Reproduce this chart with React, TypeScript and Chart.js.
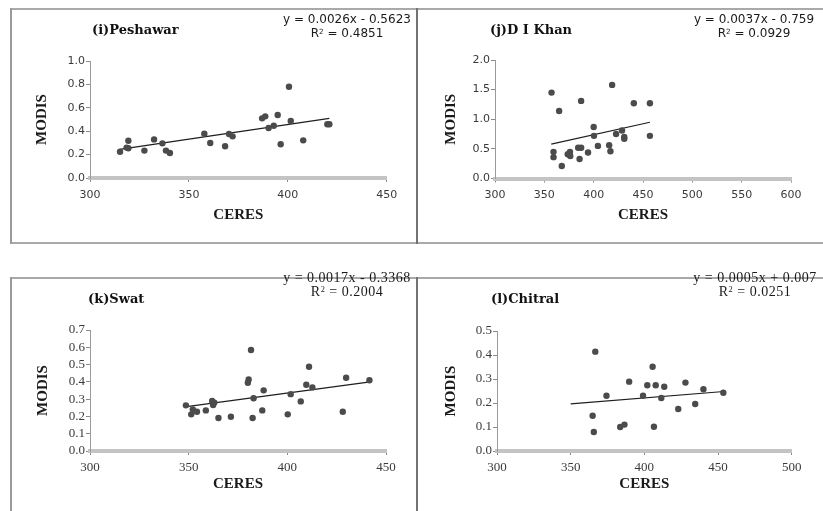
import React, { useEffect, useRef } from "react";
import { Chart, registerables } from "chart.js";

Chart.register(...registerables);

// ---------- DATA ----------
// (i) Peshawar
const peshawarX = [315.2, 319.4, 319.4, 318.5, 327.5, 332.4, 336.6, 338.4, 340.4, 357.8, 360.8, 368.3, 370.3, 372.1, 387, 388.6, 394.9, 390.3, 392.9, 396.4, 400.6, 401.5, 407.8, 420, 421];
const peshawarY = [0.225, 0.319, 0.254, 0.26, 0.234, 0.33, 0.296, 0.234, 0.214, 0.379, 0.299, 0.271, 0.376, 0.356, 0.51, 0.527, 0.538, 0.427, 0.447, 0.288, 0.78, 0.487, 0.322, 0.459, 0.459];
const peshawarTrendX = [315, 421];
const peshawarTrendY = [0.245, 0.51];
const peshawarXTicks = [300, 350, 400, 450];
const peshawarYTicks = [0, 0.2, 0.4, 0.6, 0.8, 1.0];

// (j) D I Khan
const dikhanX = [357.3, 365, 387.3, 418.7, 440.7, 457, 400, 359.3, 359.3, 367.7, 373.7, 376, 376.3, 384.3, 387.3, 385.7, 394.3, 400.3, 404.3, 415.7, 417, 422.7, 428.7, 431, 431, 457];
const dikhanY = [1.45, 1.14, 1.31, 1.58, 1.27, 1.27, 0.87, 0.45, 0.36, 0.21, 0.41, 0.45, 0.38, 0.52, 0.52, 0.33, 0.44, 0.72, 0.55, 0.56, 0.46, 0.75, 0.81, 0.7, 0.67, 0.72];
const dikhanTrendX = [357, 457];
const dikhanTrendY = [0.58, 0.95];
const dikhanXTicks = [300, 350, 400, 450, 500, 550, 600];
const dikhanYTicks = [0, 0.5, 1.0, 1.5, 2.0];

// (k) Swat
const swatX = [348.6, 351.3, 352.1, 354.2, 358.7, 361.9, 362.4, 363, 365.1, 371.4, 381.6, 380.4, 380, 382.9, 382.4, 388, 387.3, 400.2, 401.7, 406.8, 409.6, 411, 412.7, 428.1, 429.8, 441.6];
const swatY = [0.264, 0.212, 0.241, 0.227, 0.235, 0.289, 0.266, 0.28, 0.191, 0.198, 0.584, 0.414, 0.395, 0.305, 0.191, 0.351, 0.235, 0.212, 0.329, 0.287, 0.383, 0.487, 0.368, 0.227, 0.424, 0.409];
const swatTrendX = [349, 442];
const swatTrendY = [0.257, 0.4];
const swatXTicks = [300, 350, 400, 450];
const swatYTicks = [0, 0.1, 0.2, 0.3, 0.4, 0.5, 0.6, 0.7];

// (l) Chitral
const chitralX = [366.7, 364.9, 365.7, 374.3, 383.6, 386.5, 389.7, 399.1, 402, 405.6, 406.5, 407.7, 413.5, 411.5, 423, 427.9, 434.5, 440.1, 453.6];
const chitralY = [0.414, 0.147, 0.079, 0.23, 0.1, 0.11, 0.289, 0.23, 0.274, 0.351, 0.101, 0.274, 0.268, 0.221, 0.175, 0.285, 0.196, 0.257, 0.243];
const chitralTrendX = [350, 454];
const chitralTrendY = [0.196, 0.248];
const chitralXTicks = [300, 350, 400, 450, 500];
const chitralYTicks = [0, 0.1, 0.2, 0.3, 0.4, 0.5];

const xTitle = "CERES";
const yTitle = "MODIS";

type PanelProps = {
  left: number;
  top: number;
  w: number;
  h: number;
  area: { l: number; t: number; r: number; b: number };
  xs: number[];
  ys: number[];
  tx: number[];
  ty: number[];
  xTicks: number[];
  yTicks: number[];
  tickFont: { family: string; size: number };
  xTickPad: number;
  yTitleX: number;
  xTitleY: number;
};

function ScatterPanel(p: PanelProps) {
  const ref = useRef<HTMLCanvasElement | null>(null);
  useEffect(() => {
    if (!ref.current) return;
    const pts = p.xs.map((x, i) => ({ x, y: p.ys[i] }));
    const trend = p.tx.map((x, i) => ({ x, y: p.ty[i] }));
    const titleFont = { family: "Liberation Serif", size: 15, weight: "bold" as const };
    const lh = 15 * 1.2;
    const chart = new Chart(ref.current, {
      type: "scatter",
      data: {
        datasets: [
          {
            data: pts,
            backgroundColor: "#4b4b4b",
            borderWidth: 0,
            pointRadius: 3.2,
            pointHoverRadius: 3.2,
          },
          {
            data: trend,
            showLine: true,
            borderColor: "#1e1e1e",
            borderWidth: 1.2,
            pointRadius: 0,
            fill: false,
          },
        ],
      },
      options: {
        responsive: false,
        animation: false,
        events: [],
        layout: {
          padding: { left: 0, top: p.area.t, right: p.w - p.area.r, bottom: 0 },
        },
        plugins: { legend: { display: false }, tooltip: { enabled: false } },
        scales: {
          x: {
            type: "linear",
            min: p.xTicks[0],
            max: p.xTicks[p.xTicks.length - 1],
            afterBuildTicks: (s: any) => {
              s.ticks = p.xTicks.map((v) => ({ value: v }));
            },
            afterFit: (s: any) => {
              s.height = p.h - p.area.b;
            },
            border: { display: true, color: "#c4c4c4", width: 4 },
            grid: {
              display: true,
              drawOnChartArea: false,
              drawTicks: true,
              tickLength: 4,
              tickColor: "#8a8a8a",
              tickWidth: 1,
            },
            ticks: {
              color: "#3a3a3a",
              font: p.tickFont,
              padding: p.xTickPad,
              maxRotation: 0,
              autoSkip: false,
              callback: (v: any) => String(v),
            },
            title: {
              display: true,
              text: xTitle,
              color: "#1a1a1a",
              font: titleFont,
              padding: { top: 0, bottom: p.h - p.xTitleY - lh / 2 },
            },
          },
          y: {
            type: "linear",
            min: p.yTicks[0],
            max: p.yTicks[p.yTicks.length - 1],
            afterBuildTicks: (s: any) => {
              s.ticks = p.yTicks.map((v) => ({ value: v }));
            },
            afterFit: (s: any) => {
              s.width = p.area.l;
            },
            border: { display: true, color: "#9a9a9a", width: 1 },
            grid: {
              display: true,
              drawOnChartArea: false,
              drawTicks: true,
              tickLength: 4,
              tickColor: "#8a8a8a",
              tickWidth: 1,
            },
            ticks: {
              color: "#3a3a3a",
              font: p.tickFont,
              padding: 1,
              autoSkip: false,
              callback: (v: any) => Number(v).toFixed(1),
            },
            title: {
              display: true,
              text: yTitle,
              color: "#1a1a1a",
              font: titleFont,
              padding: { top: p.yTitleX - lh / 2, bottom: 0 },
            },
          },
        },
      },
    });
    return () => chart.destroy();
  }, []);
  return (
    <canvas
      ref={ref}
      width={p.w}
      height={p.h}
      style={{ position: "absolute", left: p.left, top: p.top, width: p.w, height: p.h }}
    />
  );
}

function Label(props: { x: number; y: number; text: string; font: string }) {
  return (
    <div
      style={{
        position: "absolute",
        left: props.x,
        top: props.y,
        transform: "translateY(-50%)",
        font: props.font,
        color: "#111",
        whiteSpace: "nowrap",
        lineHeight: "1",
      }}
    >
      {props.text}
    </div>
  );
}

function Equation(props: { cx: number; y: number; line1: string; r2: string; font: string; ls?: number }) {
  return (
    <div
      style={{
        position: "absolute",
        left: props.cx,
        top: props.y - 7,
        transform: "translateX(-50%)",
        font: props.font,
        color: "#1a1a1a",
        textAlign: "center",
        whiteSpace: "nowrap",
        lineHeight: "13.5px",
        letterSpacing: (props.ls || 0) + "px",
      }}
    >
      <div>{props.line1}</div>
      <div>
        R<sup style={{ fontSize: "0.6em", verticalAlign: "0.45em", lineHeight: 0 }}>2</sup> = {props.r2}
      </div>
    </div>
  );
}

const line = (l: number, t: number, w: number, h: number, c: string) => (
  <div style={{ position: "absolute", left: l, top: t, width: w, height: h, background: c }} />
);

export default function App() {
  const sansTick = { family: "DejaVu Sans", size: 11 };
  const serifTick = { family: "Liberation Serif", size: 13 };
  return (
    <div
      style={{
        position: "absolute",
        left: 0,
        top: 0,
        width: 823,
        height: 511,
        background: "#fff",
        overflow: "hidden",
      }}
    >
      <ScatterPanel
        left={11} top={9} w={406} h={234}
        area={{ l: 79, t: 52, r: 375.7, b: 169 }}
        xs={peshawarX} ys={peshawarY} tx={peshawarTrendX} ty={peshawarTrendY}
        xTicks={peshawarXTicks} yTicks={peshawarYTicks}
        tickFont={sansTick} xTickPad={6.4} yTitleX={31.5} xTitleY={206.5}
      />
      <ScatterPanel
        left={417} top={9} w={406} h={234}
        area={{ l: 78, t: 51, r: 374, b: 169.5 }}
        xs={dikhanX} ys={dikhanY} tx={dikhanTrendX} ty={dikhanTrendY}
        xTicks={dikhanXTicks} yTicks={dikhanYTicks}
        tickFont={sansTick} xTickPad={6.4} yTitleX={33.7} xTitleY={206.5}
      />
      <ScatterPanel
        left={11} top={278} w={406} h={233}
        area={{ l: 79, t: 52, r: 375, b: 173 }}
        xs={swatX} ys={swatY} tx={swatTrendX} ty={swatTrendY}
        xTicks={swatXTicks} yTicks={swatYTicks}
        tickFont={serifTick} xTickPad={5.2} yTitleX={31.7} xTitleY={206}
      />
      <ScatterPanel
        left={417} top={278} w={406} h={233}
        area={{ l: 80, t: 53, r: 374.7, b: 173 }}
        xs={chitralX} ys={chitralY} tx={chitralTrendX} ty={chitralTrendY}
        xTicks={chitralXTicks} yTicks={chitralYTicks}
        tickFont={serifTick} xTickPad={5.2} yTitleX={33.7} xTitleY={206}
      />

      {/* panel frames */}
      {line(10, 8, 813, 2, "#a9a9a9")}
      {line(10, 242, 813, 2, "#a9a9a9")}
      {line(10, 8, 2, 236, "#9a9a9a")}
      {line(416, 8, 2, 236, "#727272")}
      {line(10, 277, 813, 2, "#a9a9a9")}
      {line(10, 277, 2, 234, "#9a9a9a")}
      {line(416, 277, 2, 234, "#727272")}

      {/* panel titles */}
      <Label x={92} y={29} text="(i)Peshawar" font="bold 13px 'DejaVu Serif'" />
      <Label x={490} y={29} text="(j)D I Khan" font="bold 13px 'DejaVu Serif'" />
      <Label x={88} y={298} text="(k)Swat" font="bold 13px 'DejaVu Serif'" />
      <Label x={491} y={298} text="(l)Chitral" font="bold 13px 'DejaVu Serif'" />

      {/* regression equations */}
      <Equation cx={347} y={20} line1="y = 0.0026x - 0.5623" r2="0.4851" font="12px 'DejaVu Sans'" />
      <Equation cx={754} y={20} line1="y = 0.0037x - 0.759" r2="0.0929" font="12px 'DejaVu Sans'" />
      <Equation cx={347} y={278} line1="y = 0.0017x - 0.3368" r2="0.2004" font="14px 'Liberation Serif'" ls={0.5} />
      <Equation cx={755} y={278} line1="y = 0.0005x + 0.007" r2="0.0251" font="14px 'Liberation Serif'" ls={0.5} />
    </div>
  );
}
